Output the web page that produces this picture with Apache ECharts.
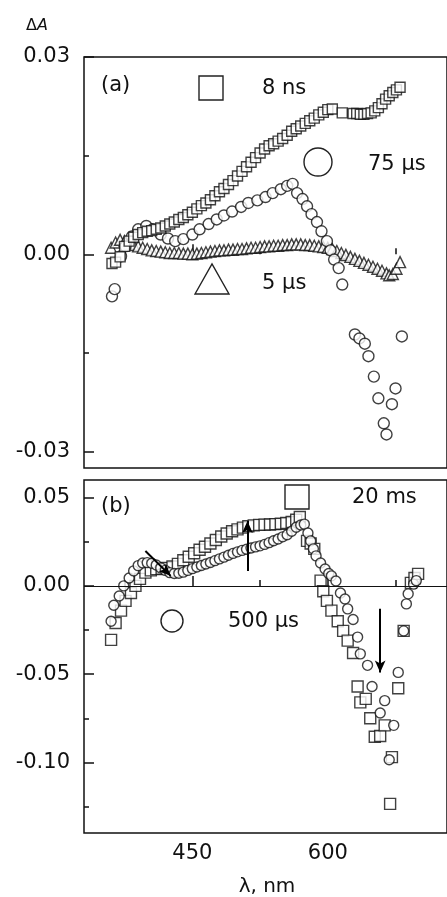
<!DOCTYPE html>
<html>
<head>
<meta charset="utf-8">
<script src="https://cdn.jsdelivr.net/npm/echarts@6/dist/echarts.min.js"></script>
<style>
  html, body { margin: 0; padding: 0; background: #fff; }
  #chart { width: 447px; height: 897px; }
</style>
</head>
<body>
<div id="chart"></div>
<script>
// panel (a): 8 ns squares
var wlA8ns = [361, 365, 370, 375, 380, 385, 390, 395, 400, 405, 410, 415, 420, 425, 430, 435, 440, 445, 450, 455,
  460, 465, 470, 475, 480, 485, 490, 495, 500, 505, 510, 515, 520, 525, 530, 535, 540, 545, 550, 555,
  560, 565, 570, 575, 580, 585, 590, 595, 600, 605, 616, 628, 632, 636, 640, 644, 648, 652, 656, 660,
  664, 668, 672, 676, 680];
var dA8ns = [-0.0014, -0.0012, -0.0004, 0.0012, 0.0020, 0.0026, 0.0030, 0.0033, 0.0035, 0.0036, 0.0038, 0.0040, 0.0043, 0.0046, 0.0049, 0.0053, 0.0056, 0.0060, 0.0064, 0.0069,
  0.0074, 0.0078, 0.0083, 0.0089, 0.0095, 0.0100, 0.0106, 0.0112, 0.0119, 0.0126, 0.0133, 0.0140, 0.0147, 0.0154, 0.0160, 0.0165, 0.0168, 0.0172, 0.0176, 0.0181,
  0.0187, 0.0191, 0.0195, 0.0199, 0.0203, 0.0207, 0.0212, 0.0216, 0.0220, 0.0221, 0.0215, 0.0214, 0.0214, 0.0213, 0.0213, 0.0214, 0.0215, 0.0218, 0.0223, 0.0229,
  0.0236, 0.0241, 0.0246, 0.0250, 0.0254];

// panel (a): 75 us circles
var wlA75 = [361, 364, 371, 376, 383, 390, 399, 406, 415, 423, 431, 440, 450, 458, 468, 477, 485, 494, 504, 512,
  522, 531, 539, 548, 555, 561, 566, 572, 577, 582, 588, 593, 599, 603, 607, 612, 616, 630, 635, 641,
  645, 651, 656, 662, 665, 671, 675, 682];
var dA75 = [-0.0064, -0.0053, -0.0003, 0.0012, 0.0027, 0.0038, 0.0043, 0.0038, 0.0030, 0.0024, 0.0020, 0.0023, 0.0030, 0.0038, 0.0046, 0.0053, 0.0059, 0.0065, 0.0072, 0.0078,
  0.0082, 0.0087, 0.0093, 0.0099, 0.0104, 0.0107, 0.0093, 0.0084, 0.0073, 0.0061, 0.0049, 0.0035, 0.0020, 0.0006, -0.0008, -0.0021, -0.0046, -0.0122, -0.0128, -0.0136,
  -0.0155, -0.0186, -0.0219, -0.0257, -0.0274, -0.0228, -0.0204, -0.0125];

// panel (a): 5 us triangles
var wlA5 = [360, 365, 370, 375, 380, 385, 390, 395, 400, 405, 410, 415, 420, 425, 430, 435, 440, 445, 450, 455,
  460, 465, 470, 475, 480, 485, 490, 495, 500, 505, 510, 515, 520, 525, 530, 535, 540, 545, 550, 555,
  560, 565, 570, 575, 580, 585, 590, 595, 600, 605, 610, 615, 620, 625, 630, 635, 640, 645, 650, 655,
  660, 665, 668, 672, 676, 680];
var dA5 = [0.0010, 0.0018, 0.0022, 0.0020, 0.0016, 0.0014, 0.0012, 0.0010, 0.0008, 0.0006, 0.0005, 0.0004, 0.0003, 0.0002, 0.0002, 0.0002, 0.0001, 0.0001, 0.0000, 0.0001,
  0.0002, 0.0003, 0.0004, 0.0005, 0.0006, 0.0006, 0.0007, 0.0007, 0.0008, 0.0008, 0.0009, 0.0010, 0.0010, 0.0011, 0.0012, 0.0012, 0.0013, 0.0013, 0.0014, 0.0014,
  0.0015, 0.0015, 0.0015, 0.0014, 0.0014, 0.0013, 0.0012, 0.0011, 0.0010, 0.0008, 0.0005, 0.0002, -0.0001, -0.0004, -0.0007, -0.0010, -0.0013, -0.0016, -0.0019, -0.0022,
  -0.0025, -0.0029, -0.0032, -0.0030, -0.0022, -0.0012];

// panel (b): 20 ms squares
var wlB20ms = [360, 365, 371, 376, 382, 387, 392, 398, 404, 410, 416, 422, 428, 434, 440, 446, 452, 458, 464, 470,
  476, 482, 488, 494, 500, 506, 512, 518, 524, 530, 536, 542, 548, 554, 560, 565, 569, 577, 581, 585,
  592, 595, 599, 604, 611, 617, 622, 628, 633, 636, 642, 647, 652, 658, 663, 669, 671, 678, 684, 692,
  696, 700];
var dA20ms = [-0.0306, -0.0210, -0.0140, -0.0085, -0.0040, 0.0000, 0.0040, 0.0075, 0.0088, 0.0095, 0.0097, 0.0102, 0.0110, 0.0125, 0.0145, 0.0165, 0.0185, 0.0205, 0.0222, 0.0240,
  0.0260, 0.0280, 0.0297, 0.0310, 0.0320, 0.0330, 0.0338, 0.0343, 0.0346, 0.0347, 0.0348, 0.0350, 0.0352, 0.0356, 0.0362, 0.0375, 0.0390, 0.0255, 0.0240, 0.0210,
  0.0030, -0.0030, -0.0085, -0.0140, -0.0200, -0.0255, -0.0310, -0.0380, -0.0570, -0.0660, -0.0640, -0.0750, -0.0855, -0.0850, -0.0790, -0.1235, -0.0970, -0.0580, -0.0255, 0.0017,
  0.0045, 0.0068];

// panel (b): 500 us circles
var wlB500 = [360, 363, 369, 374, 380, 385, 390, 395, 400, 405, 410, 415, 420, 425, 430, 435, 440, 445, 450, 455,
  460, 465, 470, 475, 480, 485, 490, 495, 500, 505, 510, 515, 520, 525, 530, 535, 540, 545, 550, 555,
  560, 565, 570, 574, 578, 581, 584, 587, 592, 597, 601, 604, 609, 614, 619, 622, 628, 633, 636, 644,
  649, 658, 663, 668, 673, 678, 684, 687, 689, 695, 698];
var dA500 = [-0.0200, -0.0110, -0.0057, 0.0000, 0.0045, 0.0085, 0.0115, 0.0130, 0.0132, 0.0128, 0.0118, 0.0102, 0.0088, 0.0075, 0.0070, 0.0072, 0.0078, 0.0088, 0.0098, 0.0107,
  0.0116, 0.0124, 0.0133, 0.0143, 0.0153, 0.0163, 0.0174, 0.0184, 0.0193, 0.0201, 0.0208, 0.0215, 0.0221, 0.0227, 0.0235, 0.0245, 0.0256, 0.0266, 0.0278, 0.0290,
  0.0310, 0.0332, 0.0345, 0.0350, 0.0300, 0.0255, 0.0210, 0.0170, 0.0130, 0.0096, 0.0070, 0.0057, 0.0028, -0.0040, -0.0074, -0.0130, -0.0190, -0.0290, -0.0385, -0.0450,
  -0.0570, -0.0720, -0.0650, -0.0985, -0.0790, -0.0490, -0.0255, -0.0102, -0.0045, 0.0010, 0.0030];

// tick values
var xMajor = [450, 600];
var xMinor = [375, 525, 675];
var yMajorA = [0.03, 0.00, -0.03];
var yMinorA = [0.015, -0.015];
var yMajorB = [0.05, 0.00, -0.05, -0.10];
var yMinorB = [0.025, -0.025, -0.075, -0.125];

// arrows in panel (b): [from, to]
var arrowsB = [
  [[398, 0.0198], [426, 0.0057]],
  [[511, 0.0085], [511, 0.0368]],
  [[658, -0.0130], [658, -0.0490]]
];

function pairs(xs, ys) {
  var out = [];
  for (var i = 0; i < xs.length; i++) out.push([xs[i], ys[i]]);
  return out;
}

var font = 'DejaVu Sans';
var ink = '#111';
var chart = echarts.init(document.getElementById('chart'), null, { renderer: 'canvas' });

function xAx(grid, ticks, len, labels) {
  return {
    type: 'value', gridIndex: grid, min: 330, max: 732, position: 'bottom',
    axisLine: { show: false },
    axisTick: { show: true, inside: true, length: len, customValues: ticks, lineStyle: { color: ink, width: 1.5 } },
    axisLabel: labels ? { show: true, customValues: labels, margin: 10, fontFamily: font, fontSize: 21, color: ink } : { show: false },
    splitLine: { show: false }
  };
}
function yAx(grid, min, max, ticks, len, labels) {
  return {
    type: 'value', gridIndex: grid, min: min, max: max, position: 'left',
    axisLine: { show: false },
    axisTick: { show: true, inside: true, length: len, customValues: ticks, lineStyle: { color: ink, width: 1.5 } },
    axisLabel: labels ? {
      show: true, customValues: labels, margin: 14, fontFamily: font, fontSize: 21, color: ink,
      formatter: function (v) { return v.toFixed(2); }
    } : { show: false },
    splitLine: { show: false }
  };
}

var mark = { color: '#fff', borderColor: '#111', borderWidth: 1.4 };

var option = {
  animation: false,
  backgroundColor: '#fff',
  grid: [
    { left: 84, top: 57, width: 373, height: 411, show: true, borderColor: ink, borderWidth: 1.5, backgroundColor: 'transparent' },
    { left: 84, top: 480, width: 373, height: 353, show: true, borderColor: ink, borderWidth: 1.5, backgroundColor: 'transparent' }
  ],
  xAxis: [
    xAx(0, xMajor, 10, null),
    xAx(0, xMinor, 6, null),
    xAx(1, xMajor, 10, xMajor),
    xAx(1, xMinor, 6, null)
  ],
  yAxis: [
    yAx(0, -0.0325, 0.03, yMajorA, 10, yMajorA),
    yAx(0, -0.0325, 0.03, yMinorA, 5, null),
    yAx(1, -0.14, 0.06, yMajorB, 10, yMajorB),
    yAx(1, -0.14, 0.06, yMinorB, 5, null)
  ],
  series: [
    {
      name: '5 µs', type: 'scatter', xAxisIndex: 0, yAxisIndex: 0,
      symbol: 'triangle', symbolSize: 11, itemStyle: mark,
      data: pairs(wlA5, dA5)
    },
    {
      name: '75 µs', type: 'scatter', xAxisIndex: 0, yAxisIndex: 0,
      symbol: 'circle', symbolSize: 11, itemStyle: mark,
      data: pairs(wlA75, dA75)
    },
    {
      name: '8 ns', type: 'scatter', xAxisIndex: 0, yAxisIndex: 0,
      symbol: 'rect', symbolSize: 10, itemStyle: mark,
      data: pairs(wlA8ns, dA8ns)
    },
    {
      name: '20 ms', type: 'scatter', xAxisIndex: 2, yAxisIndex: 2,
      symbol: 'rect', symbolSize: 11, itemStyle: mark,
      data: pairs(wlB20ms, dA20ms),
      markLine: {
        silent: true, symbol: ['none', 'none'], label: { show: false },
        lineStyle: { color: ink, width: 1.2, type: 'solid' },
        data: [{ yAxis: 0 }]
      }
    },
    {
      name: '500 µs', type: 'scatter', xAxisIndex: 2, yAxisIndex: 2,
      symbol: 'circle', symbolSize: 10, itemStyle: mark,
      data: pairs(wlB500, dA500),
      markLine: {
        silent: true, symbol: ['none', 'arrow'], symbolSize: [8, 12], label: { show: false },
        lineStyle: { color: '#000', width: 2, type: 'solid' },
        data: arrowsB.map(function (a) { return [{ coord: a[0] }, { coord: a[1] }]; })
      }
    }
  ],
  graphic: [
    { type: 'text', left: 26, top: 18, style: { text: '{d|Δ}{a|A}', rich: { d: { fontFamily: font, fontSize: 16, fill: ink }, a: { fontFamily: font, fontSize: 16, fontStyle: 'italic', fill: ink } } } },
    { type: 'text', x: 101, y: 86, style: { text: '(a)', fontFamily: font, fontSize: 21, fill: ink, verticalAlign: 'middle' } },
    { type: 'rect', shape: { x: 199, y: 76, width: 24, height: 24 }, style: { fill: '#fff', stroke: '#222', lineWidth: 1.4 } },
    { type: 'text', x: 262, y: 89, style: { text: '8 ns', fontFamily: font, fontSize: 21, fill: ink, verticalAlign: 'middle' } },
    { type: 'circle', shape: { cx: 318, cy: 162, r: 14 }, style: { fill: '#fff', stroke: '#222', lineWidth: 1.4 } },
    { type: 'text', x: 368, y: 165, style: { text: '75 µs', fontFamily: font, fontSize: 21, fill: ink, verticalAlign: 'middle' } },
    { type: 'polygon', shape: { points: [[195, 294], [212, 264], [229, 294]] }, style: { fill: '#fff', stroke: '#222', lineWidth: 1.4 } },
    { type: 'text', x: 262, y: 284, style: { text: '5 µs', fontFamily: font, fontSize: 21, fill: ink, verticalAlign: 'middle' } },
    { type: 'text', x: 101, y: 507, style: { text: '(b)', fontFamily: font, fontSize: 21, fill: ink, verticalAlign: 'middle' } },
    { type: 'rect', shape: { x: 285, y: 485, width: 24, height: 24 }, style: { fill: '#fff', stroke: '#222', lineWidth: 1.4 } },
    { type: 'text', x: 352, y: 498, style: { text: '20 ms', fontFamily: font, fontSize: 21, fill: ink, verticalAlign: 'middle' } },
    { type: 'circle', shape: { cx: 172, cy: 621, r: 11 }, style: { fill: '#fff', stroke: '#222', lineWidth: 1.4 } },
    { type: 'text', x: 228, y: 622, style: { text: '500 µs', fontFamily: font, fontSize: 21, fill: ink, verticalAlign: 'middle' } },
    { type: 'text', x: 267, y: 887, style: { text: 'λ, nm', fontFamily: font, fontSize: 20, fill: ink, align: 'center', verticalAlign: 'middle' } }
  ]
};

chart.setOption(option);
</script>
</body>
</html>
